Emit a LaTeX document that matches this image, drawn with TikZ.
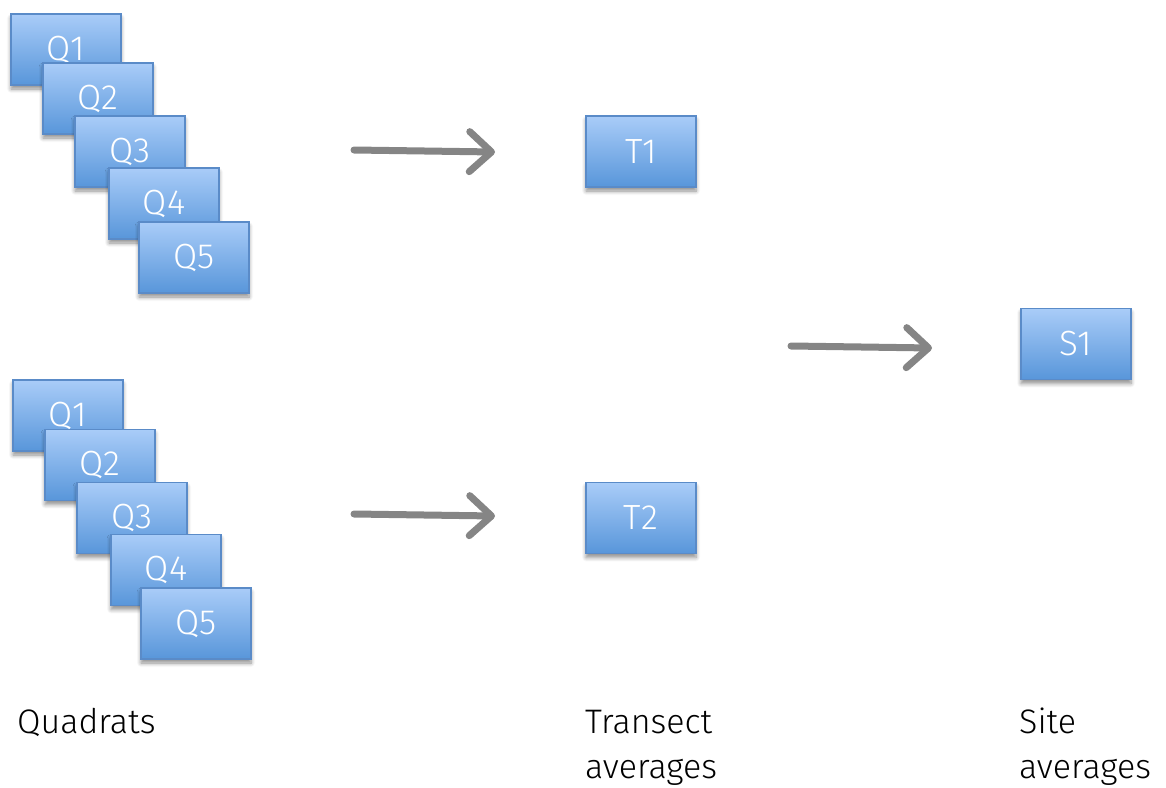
\documentclass[tikz,border=0pt]{standalone}
\usepackage{fontspec}
\setmainfont{Fira Sans}[UprightFont={* Light}]
\usetikzlibrary{arrows.meta,shadows,shadows.blur}
\definecolor{boxtop}{HTML}{A9CCF8}
\definecolor{boxbot}{HTML}{5896DA}
\definecolor{boxline}{HTML}{5A8BC8}
\definecolor{arrowgray}{HTML}{858585}
\tikzset{
  qbox/.style={draw=boxline, line width=1.2pt, top color=boxtop, bottom color=boxbot,
    minimum width=110pt, minimum height=71pt, inner sep=0pt, text=white,
    font=\fontsize{35}{37}\selectfont,
    blur shadow={shadow xshift=0pt, shadow yshift=-4pt, shadow blur radius=4pt,
      shadow blur steps=6, shadow opacity=45}},
  flow/.style={draw=arrowgray, line width=7pt, line cap=round,
    -{Straight Barb[length=22pt,width=40pt,line cap=round,line join=round]}},
  lbl/.style={anchor=base west, inner sep=0pt, font=\fontsize{34}{36}\selectfont}
}
\begin{document}
\begin{tikzpicture}[x=1pt,y=-1pt]
\useasboundingbox (0,0) rectangle (1166,787);
% top group
\node[qbox] (a1) at (66,49.5) {Q1};
\node[qbox] (a2) at (98,98.5) {Q2};
\node[qbox] (a3) at (130,151.5) {Q3};
\node[qbox] (a4) at (164,203.5) {Q4};
\node[qbox] (a5) at (194,257.5) {Q5};
% bottom group
\node[qbox] (b1) at (68,415.5) {Q1};
\node[qbox] (b2) at (100,465) {Q2};
\node[qbox] (b3) at (132,518) {Q3};
\node[qbox] (b4) at (166,570) {Q4};
\node[qbox] (b5) at (196,623.5) {Q5};
% transects and site
\node[qbox] (t1) at (641,151.5) {T1};
\node[qbox] (t2) at (641,518) {T2};
\node[qbox] (s1) at (1076,344) {S1};
% arrow ends
\coordinate (p1) at (354,150);
\coordinate (p2) at (495,152);
\coordinate (p3) at (354,514);
\coordinate (p4) at (495,516);
\coordinate (p5) at (791,346);
\coordinate (p6) at (932,348);
\draw[flow] (p1) -- (p2);
\draw[flow] (p3) -- (p4);
\draw[flow] (p5) -- (p6);
% labels
\node[lbl] (l1) at (17,733) {Quadrats};
\node[lbl] (l2) at (585,733) {Transect};
\node[lbl] (l2b) at (585,778) {averages};
\node[lbl] (l3) at (1019,733) {Site};
\node[lbl] (l3b) at (1019,778) {averages};
\end{tikzpicture}
\end{document}
